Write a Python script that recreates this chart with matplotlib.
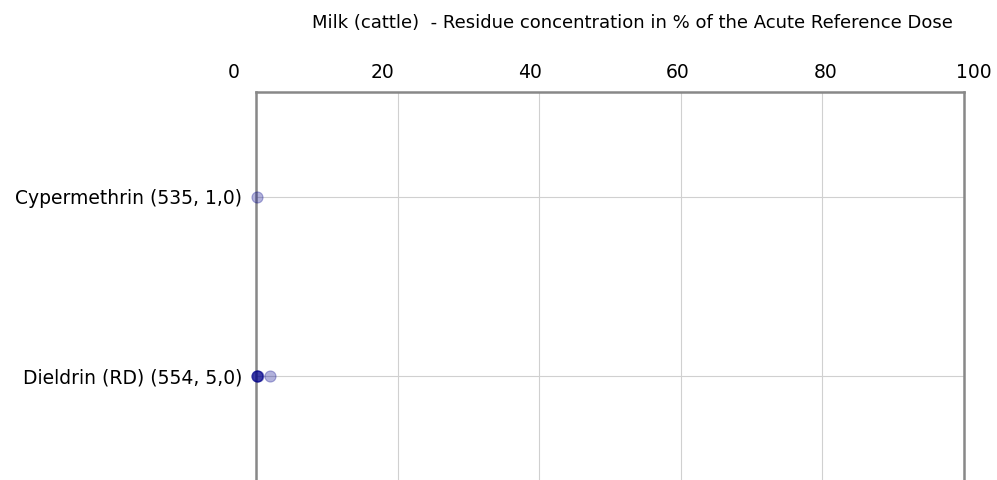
import numpy as np
from matplotlib import pyplot as plt

# data
categories = ["Cypermethrin (535, 1,0)", "Dieldrin (RD) (554, 5,0)"]
cyper_vals = [0.1]
dieldrin_vals = [0.1, 0.2, 0.2, 0.3, 2.0]
xticks = [0, 20, 40, 60, 80, 100]

fig = plt.figure(figsize=(9.97, 4.8), dpi=100)
# axes from x=256..964 px, y=92 (top)..480 (bottom)
ax = fig.add_axes([256/997, 0, (964-256)/997, (480-92)/480])

pt = "#00008B"
ax.plot(cyper_vals, [0]*len(cyper_vals), "o", color=pt, alpha=0.3, ms=8, mec=pt, mew=0.8, zorder=3, clip_on=False)
ax.plot(dieldrin_vals, [1]*len(dieldrin_vals), "o", color=pt, alpha=0.3, ms=8, mec=pt, mew=0.8, zorder=3, clip_on=False)

ax.set_xlim(0, 100)
ax.set_ylim((480-197)/179, -(197-92)/179)
ax.set_yticks([0, 1])
ax.set_yticklabels(categories, fontsize=13.5)
ax.set_xticks(xticks)
ax.set_xticklabels([])
ax.tick_params(axis="x", length=0, top=False, bottom=False)
ax.tick_params(axis="y", length=0, pad=10)
ax.grid(True, color="#d0d0d0", lw=0.8)
ax.set_axisbelow(True)

for s in ["left", "right", "top"]:
    ax.spines[s].set_color("#888888")
    ax.spines[s].set_linewidth(1.8)
ax.spines["bottom"].set_visible(False)

# tick labels sit on a slightly wider scale than the gridlines in the original
lab = fig.add_axes([234/997, (480-92)/480, (974-234)/997, 0.001])
lab.set_xlim(0, 100)
lab.set_xticks(xticks)
lab.xaxis.tick_top()
lab.tick_params(axis="x", length=0, pad=7, labelsize=13.5)
lab.set_yticks([])
for s in lab.spines.values():
    s.set_visible(False)
lab.patch.set_visible(False)

fig.text(632/997, 1 - 23/480, "Milk (cattle)  - Residue concentration in % of the Acute Reference Dose",
         ha="center", va="center", fontsize=13)

fig.savefig("out.png", dpi=100)
